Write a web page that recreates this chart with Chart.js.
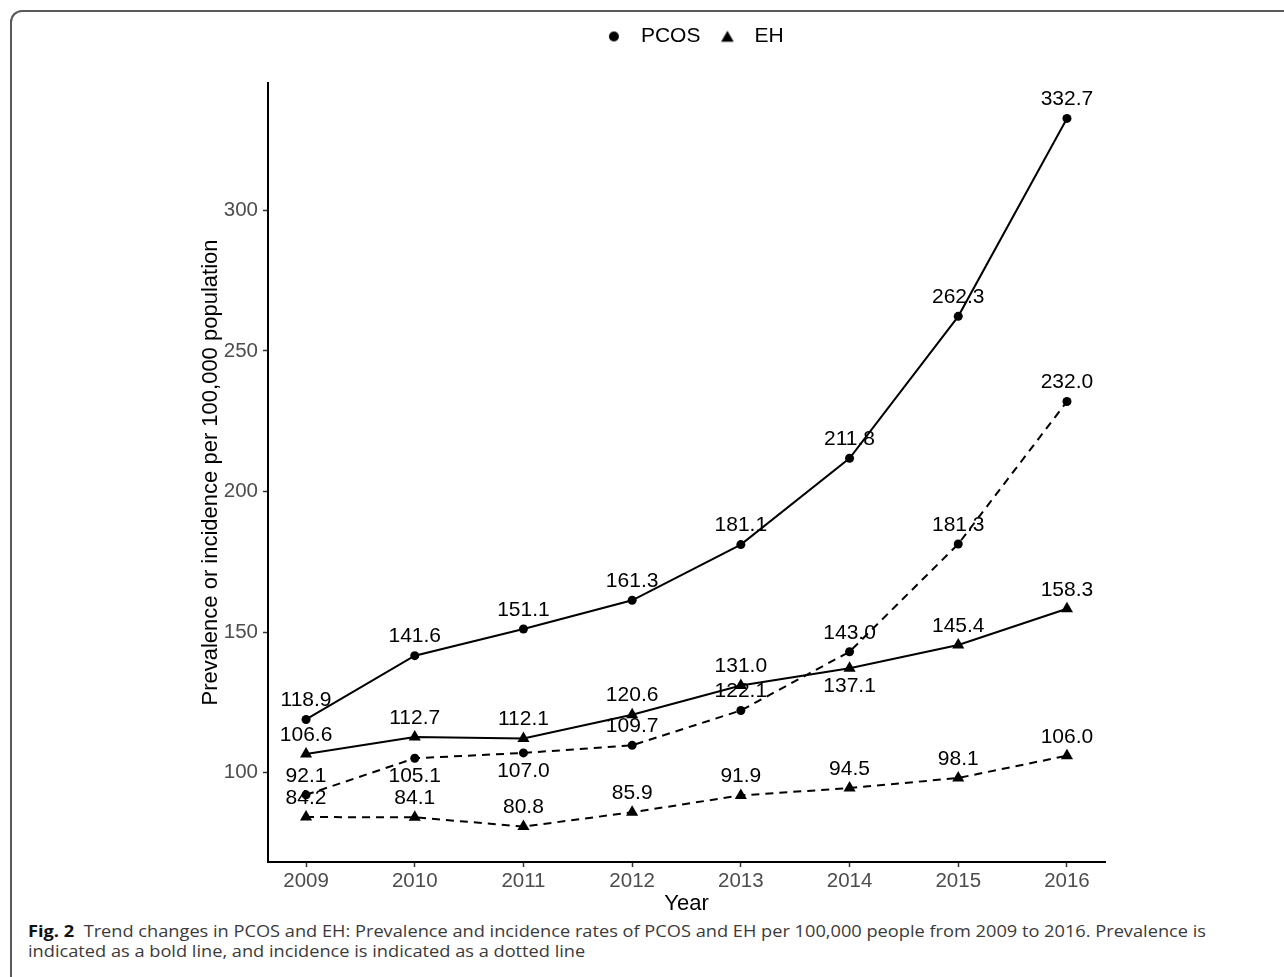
<!DOCTYPE html>
<html>
<head>
<meta charset="utf-8">
<script src="https://cdn.jsdelivr.net/npm/chart.js@4.4.1/dist/chart.umd.min.js"></script>
<style>
  html, body { margin: 0; padding: 0; background: #fff; }
  body { width: 1284px; height: 977px; position: relative; overflow: hidden; }
  #frame {
    position: absolute; left: 10px; top: 10px; width: 1400px; height: 1100px;
    border-top: 2px solid #5a5a5a; border-left: 2px solid #5a5a5a;
    border-top-left-radius: 12px; box-sizing: border-box;
  }
  #chart { position: absolute; left: 0; top: 0; }
  #caption {
    position: absolute; left: 28px; top: 922px;
    font-family: "Open Sans", "Noto Sans", sans-serif;
    font-size: 16px; line-height: 19.5px; color: #3a3a3a; white-space: nowrap;
    transform-origin: 0 0;
  }
  #caption b { color: #111; font-weight: 700; }
</style>
</head>
<body>
<div id="frame"></div>
<canvas id="chart" width="1284" height="920"></canvas>
<div id="caption"><span id="capLine"><b>Fig. 2</b>&nbsp; Trend changes in PCOS and EH: Prevalence and incidence rates of PCOS and EH per 100,000 people from 2009 to 2016. Prevalence is</span><br>indicated as a bold line, and incidence is indicated as a dotted line</div>
<script>
// Years and rates per 100,000 population
const years = [2009, 2010, 2011, 2012, 2013, 2014, 2015, 2016];
const pcosPrevalence = [118.9, 141.6, 151.1, 161.3, 181.1, 211.8, 262.3, 332.7];
const pcosIncidence  = [92.1, 105.1, 107.0, 109.7, 122.1, 143.0, 181.3, 232.0];
const ehPrevalence   = [106.6, 112.7, 112.1, 120.6, 131.0, 137.1, 145.4, 158.3];
const ehIncidence    = [84.2, 84.1, 80.8, 85.9, 91.9, 94.5, 98.1, 106.0];
const yTicks = [100, 150, 200, 250, 300];

const FONT = "'Liberation Sans', Arial, sans-serif";

// Caption set in a condensed measure: first line spans the figure width
(function () {
  const cap = document.getElementById('caption');
  const w = document.getElementById('capLine').getBoundingClientRect().width;
  cap.style.transform = `scaleX(${1178 / w})`;
})();

// Axis limits with a 5% margin around the data
const allValues = [].concat(pcosPrevalence, pcosIncidence, ehPrevalence, ehIncidence);
const vMin = Math.min(...allValues), vMax = Math.max(...allValues);
const yMin = vMin - 0.05 * (vMax - vMin);
const yMax = vMax + 0.05 * (vMax - vMin);
const xPad = 0.05 * (years[years.length - 1] - years[0]);

const toPoints = arr => years.map((x, i) => ({ x, y: arr[i] }));

// Legend keys
function makeKey(shape) {
  const c = document.createElement('canvas');
  c.width = 14; c.height = 14;
  const g = c.getContext('2d');
  g.fillStyle = '#000';
  g.beginPath();
  if (shape === 'circle') {
    g.arc(7, 7, 5, 0, Math.PI * 2);
  } else {
    g.moveTo(7, 1.2); g.lineTo(13.3, 12.3); g.lineTo(0.7, 12.3); g.closePath();
  }
  g.fill();
  return c;
}
const circleKey = makeKey('circle');
const triangleKey = makeKey('triangle');

function series(label, values, shape, dashed, below) {
  return {
    label,
    data: toPoints(values),
    borderColor: '#000',
    backgroundColor: '#000',
    borderWidth: 2,
    borderDash: dashed ? [8, 6] : [],
    pointStyle: shape,
    pointRadius: shape === 'circle' ? 4.5 : 7,
    pointBorderWidth: 0,
    pointBackgroundColor: '#000',
    tension: 0,
    labelBelow: below
  };
}

// Value text next to every point
const valueLabels = {
  id: 'valueLabels',
  afterDatasetsDraw(chart) {
    const ctx = chart.ctx;
    ctx.save();
    ctx.font = `21px ${FONT}`;
    ctx.fillStyle = '#000';
    ctx.textAlign = 'center';
    ctx.textBaseline = 'middle';
    chart.data.datasets.forEach((ds, di) => {
      const meta = chart.getDatasetMeta(di);
      meta.data.forEach((pt, i) => {
        const below = ds.labelBelow.includes(i);
        ctx.fillText(ds.data[i].y.toFixed(1), pt.x, pt.y + (below ? 18 : -19));
      });
    });
    ctx.restore();
  }
};

// Fixed band for the legend row above the plot
const legendBand = {
  id: 'legendBand',
  beforeLayout(chart) {
    const lg = chart.legend;
    if (lg && !lg._bandSet) {
      const fit = lg.fit;
      lg.fit = function () { fit.call(this); this.height = 67.5; };
      lg._bandSet = true;
    }
  },
  afterLayout(chart) {
    if (chart.legend) chart.legend.left = chart.chartArea.left + 8;
  }
};

new Chart(document.getElementById('chart'), {
  type: 'line',
  data: {
    datasets: [
      series('PCOS prevalence', pcosPrevalence, 'circle', false, []),
      series('PCOS incidence', pcosIncidence, 'circle', true, [1, 2]),
      series('EH prevalence', ehPrevalence, 'triangle', false, [5]),
      series('EH incidence', ehIncidence, 'triangle', true, [])
    ]
  },
  options: {
    responsive: false,
    animation: false,
    layout: { padding: { top: 15.5, right: 179, bottom: 0, left: 0 } },
    scales: {
      x: {
        type: 'linear',
        min: years[0] - xPad,
        max: years[years.length - 1] + xPad,
        afterBuildTicks: s => { s.ticks = years.map(v => ({ value: v })); },
        afterFit: s => { s.height = 58; },
        border: { display: true, color: '#000', width: 2 },
        grid: { display: true, drawOnChartArea: false, drawTicks: true, tickLength: 5, tickWidth: 1.5, tickColor: '#333' },
        ticks: { callback: v => String(v), font: { family: FONT, size: 20.5 }, color: '#4d4d4d', padding: 2, autoSkip: false, maxRotation: 0 },
        title: { display: true, text: 'Year', font: { family: FONT, size: 22 }, color: '#000', padding: { top: 0, bottom: 3 } }
      },
      y: {
        type: 'linear',
        min: yMin,
        max: yMax,
        afterBuildTicks: s => { s.ticks = yTicks.map(v => ({ value: v })); },
        afterFit: s => { s.width = 268; },
        border: { display: true, color: '#000', width: 2 },
        grid: { display: true, drawOnChartArea: false, drawTicks: true, tickLength: 5, tickWidth: 1.5, tickColor: '#333' },
        ticks: { font: { family: FONT, size: 20.5 }, color: '#4d4d4d', padding: 5 },
        title: { display: true, text: 'Prevalence or incidence per 100,000 population', font: { family: FONT, size: 22 }, color: '#000', padding: { top: 198, bottom: 0 } }
      }
    },
    plugins: {
      tooltip: { enabled: false },
      legend: {
        position: 'top',
        fullSize: false,
        onClick: () => {},
        labels: {
          usePointStyle: true,
          pointStyleWidth: 33,
          padding: 10.5,
          font: { family: FONT, size: 21 },
          color: '#000',
          generateLabels: () => [
            { text: 'PCOS', pointStyle: circleKey, fillStyle: '#000', strokeStyle: '#000', lineWidth: 0, hidden: false, datasetIndex: 0 },
            { text: 'EH', pointStyle: triangleKey, fillStyle: '#000', strokeStyle: '#000', lineWidth: 0, hidden: false, datasetIndex: 2 }
          ]
        }
      }
    }
  },
  plugins: [valueLabels, legendBand]
});
</script>
</body>
</html>
